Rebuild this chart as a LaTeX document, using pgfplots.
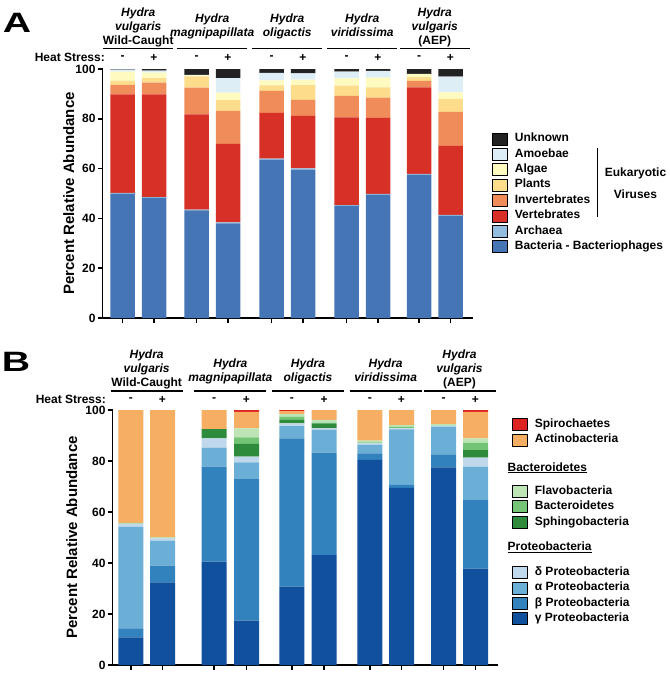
\documentclass[border=0pt]{standalone}
\usepackage{graphicx}
\usepackage{pgfplots}
\usepackage{pgfplotstable}
\pgfplotsset{compat=1.18}
\usepackage{fontspec}
\setmainfont{Liberation Sans}

\definecolor{cUnk}{HTML}{222222}
\definecolor{cAmo}{HTML}{DDEEF7}
\definecolor{cAlg}{HTML}{FFFAC0}
\definecolor{cPla}{HTML}{FDDD8C}
\definecolor{cInv}{HTML}{F08C5A}
\definecolor{cVer}{HTML}{D73027}
\definecolor{cArc}{HTML}{92BDDF}
\definecolor{cBac}{HTML}{4575B4}
\definecolor{cSpi}{HTML}{DD2222}
\definecolor{cAct}{HTML}{F5AE62}
\definecolor{cFla}{HTML}{BCE4B5}
\definecolor{cBct}{HTML}{74C476}
\definecolor{cSph}{HTML}{2E8B3B}
\definecolor{cDel}{HTML}{C0D8EC}
\definecolor{cAlp}{HTML}{6BAED6}
\definecolor{cBet}{HTML}{3182BD}
\definecolor{cGam}{HTML}{11509C}

\newcommand\tw{\fontsize{12}{14}\selectfont\bfseries}
\newcommand\ti{\fontsize{12}{14}\selectfont\bfseries\itshape}

\pgfplotstableread{
x     bac  arc ver  inv  pla alg amo unk
122.5 50.0 0.3 39.5 3.8  1.7 3.6 0.9 0.2
154   48.2 0.3 41.3 4.7  1.8 2.2 0.8 0.7
196.5 43.2 0.3 38.3 10.7 4.5 0.4 0.2 2.4
228   38.0 0.4 31.5 13.3 4.3 3.0 5.8 3.7
271.5 63.5 0.5 18.4 8.8  2.2 2.0 3.0 1.6
303   59.5 0.6 21.1 6.4  5.9 2.2 2.5 1.8
346.5 45.0 0.3 35.3 8.6  4.1 2.9 2.7 1.1
378   49.5 0.4 30.5 8.1  4.1 3.9 2.7 0.8
419   57.5 0.4 34.7 2.6  1.5 1.3 0.0 2.0
450.5 41.0 0.4 27.7 13.7 5.1 2.7 6.3 3.1
}\tabA

\pgfplotstableread{
x     gam  bet  alp  del sph bct fla act  spi
130.8 10.8 3.6  39.8 1.1 0.0 0.1 0.3 44.3 0.0
162.5 32.4 6.6  9.8  0.9 0.0 0.2 0.2 49.9 0.0
214.2 40.5 37.3 7.4  3.7 3.6 0.0 0.0 7.5  0.0
246.5 17.4 55.5 6.6  2.2 5.0 2.6 3.5 6.5  0.7
291.8 30.7 58.2 4.8  1.1 1.3 1.3 1.0 1.2  0.4
324.2 43.1 40.2 8.9  0.6 2.0 0.3 1.0 3.9  0.0
369.8 80.4 2.6  3.3  0.6 0.0 0.4 0.7 12.0 0.0
401.5 69.5 1.1  21.8 0.4 0.0 0.7 0.6 5.9  0.0
443.5 77.5 4.9  11.1 0.3 0.0 0.0 0.7 5.5  0.0
475.5 37.8 26.9 13.1 3.5 3.0 2.9 1.7 10.4 0.7
}\tabB

\pgfplotsset{stk/.style={
  scale only axis, ybar stacked, bar shift=0pt,
  ymin=0, ymax=100, clip=false,
  axis x line=bottom, axis y line=left,
  axis line style={line width=1.5pt,-},
  ytick={0,20,...,100}, tick align=outside, major tick length=5pt,
  tick style={line width=1.5pt, black},
  xticklabels={},
  /pgf/number format/assume math mode=true,
  yticklabel style={font=\tw, inner sep=2pt},
  ylabel={Percent Relative Abundance},
  ylabel style={font=\fontsize{15}{15}\selectfont\bfseries, anchor=center},
  legend image code/.code={\fill[##1] (0pt,-6pt) rectangle (15pt,6pt); \path (22.6pt,0pt);},
  legend cell align=left,
}}

\tikzset{hi/.style={anchor=base, inner sep=0pt, font=\ti},
         hw/.style={anchor=base, inner sep=0pt, font=\tw}}

\begin{document}
\begin{tikzpicture}
\path[use as bounding box] (0,0) rectangle (670pt,-673pt);

% ---------------- Panel A ----------------
\node[font=\fontsize{28}{28}\selectfont\bfseries, anchor=north west, inner sep=0pt] at (2.7pt,-13.3pt) {\scalebox{1.4}[1]{A}};
\node[hi] at (138.25pt,-16.3pt) {Hydra};
\node[hi] at (138.25pt,-30.3pt) {vulgaris};
\node[hw] at (138.25pt,-44.3pt) {Wild-Caught};
\node[hi] at (212.25pt,-22.5pt) {Hydra};
\node[hi] at (212.25pt,-36.5pt) {magnipapillata};
\node[hi] at (287.25pt,-22.5pt) {Hydra};
\node[hi] at (287.25pt,-36.5pt) {oligactis};
\node[hi] at (362.25pt,-22.5pt) {Hydra};
\node[hi] at (362.25pt,-36.5pt) {viridissima};
\node[hi] at (434.75pt,-16.3pt) {Hydra};
\node[hi] at (434.75pt,-30.3pt) {vulgaris};
\node[hw] at (434.75pt,-44.3pt) {(AEP)};
\draw[line width=1.3pt] (103.25pt,-48.3pt) -- (173.25pt,-48.3pt);
\draw[line width=1.3pt] (177.25pt,-48.3pt) -- (247.25pt,-48.3pt);
\draw[line width=1.3pt] (252.25pt,-48.3pt) -- (322.25pt,-48.3pt);
\draw[line width=1.3pt] (327.25pt,-48.3pt) -- (397.25pt,-48.3pt);
\draw[line width=1.3pt] (399.75pt,-48.3pt) -- (469.75pt,-48.3pt);
\node[font=\tw, anchor=east, inner sep=0pt] at (105pt,-57.5pt) {Heat Stress:};
\node[font=\tw, inner sep=0pt] at (122.5pt,-57.5pt) {-};
\node[font=\tw, inner sep=0pt] at (154pt,-57.5pt) {+};
\node[font=\tw, inner sep=0pt] at (196.5pt,-57.5pt) {-};
\node[font=\tw, inner sep=0pt] at (228pt,-57.5pt) {+};
\node[font=\tw, inner sep=0pt] at (271.5pt,-57.5pt) {-};
\node[font=\tw, inner sep=0pt] at (303pt,-57.5pt) {+};
\node[font=\tw, inner sep=0pt] at (346.5pt,-57.5pt) {-};
\node[font=\tw, inner sep=0pt] at (378pt,-57.5pt) {+};
\node[font=\tw, inner sep=0pt] at (419pt,-57.5pt) {-};
\node[font=\tw, inner sep=0pt] at (450.5pt,-57.5pt) {+};

\begin{axis}[stk, at={(102.7pt,-318pt)}, anchor=south west,
  width=370.3pt, height=249pt, xmin=102.7, xmax=473, bar width=24.5pt,
  xtick={122.5,154,196.5,228,271.5,303,346.5,378,419,450.5},
  ylabel style={at={(axis description cs:-0.0915,0.5)}},
  legend style={at={(1,1)}, anchor=north west, xshift=18.7pt, yshift=-63.3pt,
    draw=none, fill=none, inner sep=0pt, row sep=3pt, column sep=0pt, font=\tw,
    nodes={inner sep=0pt, text height=9pt, text depth=3pt}},
]
\addplot[fill=cBac, draw=none, forget plot] table[x=x,y=bac]{\tabA};
\addplot[fill=cArc, draw=none, forget plot] table[x=x,y=arc]{\tabA};
\addplot[fill=cVer, draw=none, forget plot] table[x=x,y=ver]{\tabA};
\addplot[fill=cInv, draw=none, forget plot] table[x=x,y=inv]{\tabA};
\addplot[fill=cPla, draw=none, forget plot] table[x=x,y=pla]{\tabA};
\addplot[fill=cAlg, draw=none, forget plot] table[x=x,y=alg]{\tabA};
\addplot[fill=cAmo, draw=none, forget plot] table[x=x,y=amo]{\tabA};
\addplot[fill=cUnk, draw=none, forget plot] table[x=x,y=unk]{\tabA};
\addlegendimage{fill=cUnk}\addlegendentry{Unknown}
\addlegendimage{fill=cAmo}\addlegendentry{Amoebae}
\addlegendimage{fill=cAlg}\addlegendentry{Algae}
\addlegendimage{fill=cPla}\addlegendentry{Plants}
\addlegendimage{fill=cInv}\addlegendentry{Invertebrates}
\addlegendimage{fill=cVer}\addlegendentry{Vertebrates}
\addlegendimage{fill=cArc}\addlegendentry{Archaea}
\addlegendimage{fill=cBac}\addlegendentry{Bacteria - Bacteriophages}
\end{axis}
\draw[line width=1.2pt] (597.7pt,-148pt) -- (597.7pt,-217pt);
\node[font=\tw, inner sep=0pt] at (635.5pt,-173pt) {Eukaryotic};
\node[font=\tw, inner sep=0pt] at (635.5pt,-194pt) {Viruses};

% ---------------- Panel B ----------------
\node[font=\fontsize{28}{28}\selectfont\bfseries, anchor=north west, inner sep=0pt] at (1.7pt,-351.7pt) {\scalebox{1.4}[1]{B}};
\node[hi] at (146.65pt,-358.5pt) {Hydra};
\node[hi] at (146.65pt,-372.5pt) {vulgaris};
\node[hw] at (146.65pt,-386.8pt) {Wild-Caught};
\node[hi] at (230.35pt,-367pt) {Hydra};
\node[hi] at (230.35pt,-381pt) {magnipapillata};
\node[hi] at (308pt,-367pt) {Hydra};
\node[hi] at (308pt,-381pt) {oligactis};
\node[hi] at (385.65pt,-367pt) {Hydra};
\node[hi] at (385.65pt,-381pt) {viridissima};
\node[hi] at (459.5pt,-358.5pt) {Hydra};
\node[hi] at (459.5pt,-372.5pt) {vulgaris};
\node[hw] at (459.5pt,-386.8pt) {(AEP)};
\draw[line width=1.3pt] (110.65pt,-391pt) -- (182.65pt,-391pt);
\draw[line width=1.3pt] (194.35pt,-391pt) -- (266.35pt,-391pt);
\draw[line width=1.3pt] (272pt,-391pt) -- (344pt,-391pt);
\draw[line width=1.3pt] (349.65pt,-391pt) -- (421.65pt,-391pt);
\draw[line width=1.3pt] (423.5pt,-391pt) -- (495.5pt,-391pt);
\node[font=\tw, anchor=east, inner sep=0pt] at (106pt,-399.5pt) {Heat Stress:};
\node[font=\tw, inner sep=0pt] at (130.8pt,-399.5pt) {-};
\node[font=\tw, inner sep=0pt] at (162.5pt,-399.5pt) {+};
\node[font=\tw, inner sep=0pt] at (214.2pt,-399.5pt) {-};
\node[font=\tw, inner sep=0pt] at (246.5pt,-399.5pt) {+};
\node[font=\tw, inner sep=0pt] at (291.8pt,-399.5pt) {-};
\node[font=\tw, inner sep=0pt] at (324.2pt,-399.5pt) {+};
\node[font=\tw, inner sep=0pt] at (369.8pt,-399.5pt) {-};
\node[font=\tw, inner sep=0pt] at (401.5pt,-399.5pt) {+};
\node[font=\tw, inner sep=0pt] at (443.5pt,-399.5pt) {-};
\node[font=\tw, inner sep=0pt] at (475.5pt,-399.5pt) {+};

\begin{axis}[stk, at={(112.7pt,-665pt)}, anchor=south west,
  width=385.3pt, height=255pt, xmin=112.7, xmax=498, bar width=25pt,
  xtick={130.8,162.5,214.2,246.5,291.8,324.2,369.8,401.5,443.5,475.5},
  ylabel style={at={(axis description cs:-0.106,0.5)}},
  legend style={at={(1,1)}, anchor=north west, xshift=13.7pt, yshift=-8pt,
    draw=none, fill=none, inner sep=0pt, row sep=3pt, column sep=0pt, font=\tw,
    nodes={inner sep=0pt, text height=9pt, text depth=3pt}},
]
\addplot[fill=cGam, draw=none, forget plot] table[x=x,y=gam]{\tabB};
\addplot[fill=cBet, draw=none, forget plot] table[x=x,y=bet]{\tabB};
\addplot[fill=cAlp, draw=none, forget plot] table[x=x,y=alp]{\tabB};
\addplot[fill=cDel, draw=none, forget plot] table[x=x,y=del]{\tabB};
\addplot[fill=cSph, draw=none, forget plot] table[x=x,y=sph]{\tabB};
\addplot[fill=cBct, draw=none, forget plot] table[x=x,y=bct]{\tabB};
\addplot[fill=cFla, draw=none, forget plot] table[x=x,y=fla]{\tabB};
\addplot[fill=cAct, draw=none, forget plot] table[x=x,y=act]{\tabB};
\addplot[fill=cSpi, draw=none, forget plot] table[x=x,y=spi]{\tabB};
\addlegendimage{fill=cSpi}\addlegendentry{Spirochaetes}
\addlegendimage{fill=cAct}\addlegendentry{Actinobacteria}
\addlegendimage{empty legend}\addlegendentry[text height=22pt, text depth=11pt]{\hspace*{-27.3pt}\underline{Bacteroidetes}}
\addlegendimage{fill=cFla}\addlegendentry{Flavobacteria}
\addlegendimage{fill=cBct}\addlegendentry{Bacteroidetes}
\addlegendimage{fill=cSph}\addlegendentry{Sphingobacteria}
\addlegendimage{empty legend}\addlegendentry[text height=19pt, text depth=13pt]{\hspace*{-27.3pt}\underline{Proteobacteria}}
\addlegendimage{fill=cDel}\addlegendentry{δ Proteobacteria}
\addlegendimage{fill=cAlp}\addlegendentry{α Proteobacteria}
\addlegendimage{fill=cBet}\addlegendentry{β Proteobacteria}
\addlegendimage{fill=cGam}\addlegendentry{γ Proteobacteria}
\end{axis}
\end{tikzpicture}
\end{document}
